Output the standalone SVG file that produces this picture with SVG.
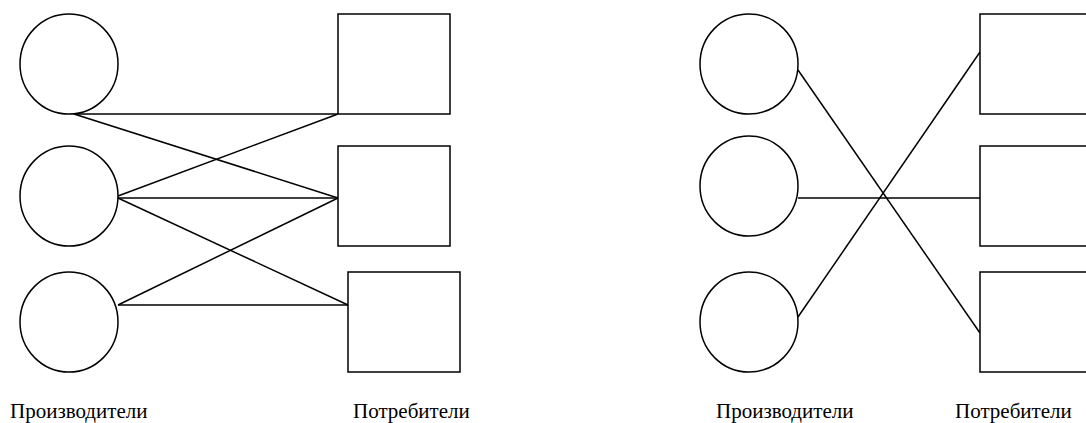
<svg xmlns="http://www.w3.org/2000/svg" width="1086" height="423" viewBox="0 0 1086 423">
<style>
.n{fill:#fff;stroke:#000;stroke-width:1.5}
.c{stroke:#000;stroke-width:1.5;fill:none}
.t{font-family:"Liberation Serif","Times New Roman",serif;font-size:21px;fill:#000}
</style>
<rect width="1086" height="423" fill="#fff"/>
<g id="connectors">
<line class="c" x1="74" y1="114" x2="338" y2="114"/>
<line class="c" x1="74" y1="114" x2="338" y2="198"/>
<line class="c" x1="118" y1="196" x2="338" y2="114"/>
<line class="c" x1="118" y1="198" x2="338" y2="198"/>
<line class="c" x1="118" y1="198" x2="348" y2="305"/>
<line class="c" x1="118" y1="305" x2="338" y2="198"/>
<line class="c" x1="118" y1="305" x2="348" y2="305"/>
<line class="c" x1="798" y1="70" x2="980" y2="333"/>
<line class="c" x1="798" y1="317" x2="980" y2="52"/>
<line class="c" x1="798" y1="198" x2="980" y2="198"/>
</g>
<g id="p1"><ellipse class="n" cx="69" cy="64" rx="49" ry="50"/></g>
<g id="p2"><ellipse class="n" cx="69" cy="196" rx="49" ry="50"/></g>
<g id="p3"><ellipse class="n" cx="69" cy="322" rx="49" ry="50"/></g>
<g id="c1"><rect class="n" x="338" y="14" width="112" height="100"/></g>
<g id="c2"><rect class="n" x="338" y="146" width="112" height="100"/></g>
<g id="c3"><rect class="n" x="348" y="272" width="112" height="100"/></g>
<g id="rp1"><ellipse class="n" cx="749" cy="64" rx="49" ry="50"/></g>
<g id="rp2"><ellipse class="n" cx="749" cy="186" rx="49" ry="50"/></g>
<g id="rp3"><ellipse class="n" cx="749" cy="322" rx="49" ry="50"/></g>
<g id="rc1"><rect class="n" x="980" y="14" width="120" height="100"/></g>
<g id="rc2"><rect class="n" x="980" y="146" width="120" height="100"/></g>
<g id="rc3"><rect class="n" x="980" y="272" width="120" height="100"/></g>
<g id="labels">
<text class="t" x="10" y="418">Производители</text>
<text class="t" x="353" y="418">Потребители</text>
<text class="t" x="716" y="418">Производители</text>
<text class="t" x="955" y="418">Потребители</text>
</g>
</svg>
